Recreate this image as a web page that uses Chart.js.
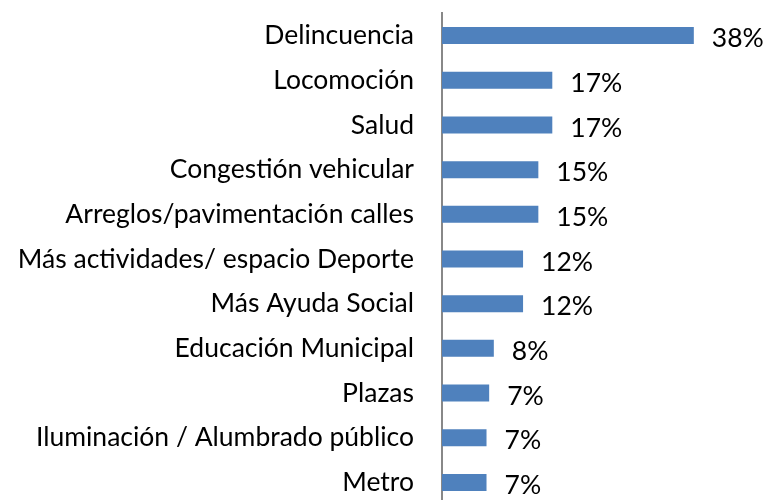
<!DOCTYPE html>
<html>
<head>
<meta charset="utf-8">
<script src="https://cdn.jsdelivr.net/npm/chart.js@4/dist/chart.umd.min.js"></script>
<style>
html,body{margin:0;padding:0;background:#fff;overflow:hidden;}
#wrap{width:767px;height:518px;}
</style>
</head>
<body>
<div id="wrap"><canvas id="c" width="767" height="518"></canvas></div>
<script>
const categories = ["Delincuencia","Locomoción","Salud","Congestión vehicular","Arreglos/pavimentación calles","Más actividades/ espacio Deporte","Más Ayuda Social","Educación Municipal","Plazas","Iluminación / Alumbrado público","Metro"];
const values = [37.9, 16.6, 16.6, 14.5, 14.5, 12.2, 12.2, 7.8, 7.1, 6.7, 6.7];
const valueLabels = ["38%","17%","17%","15%","15%","12%","12%","8%","7%","7%","7%"];

const FONT = "Lato, 'Open Sans', sans-serif";
const FSIZE = 26.5;
const labelPlugin = {
  id: 'valueLabels',
  afterDatasetsDraw(chart) {
    const ctx = chart.ctx;
    const meta = chart.getDatasetMeta(0);
    ctx.save();
    ctx.font = FSIZE + "px " + FONT;
    ctx.fillStyle = "#000";
    ctx.textAlign = "left";
    ctx.textBaseline = "middle";
    meta.data.forEach((bar, i) => {
      ctx.fillText(valueLabels[i], bar.x + 18, bar.y + 3);
    });
    ctx.restore();
  }
};

new Chart(document.getElementById('c'), {
  type: 'bar',
  data: {
    labels: categories,
    datasets: [{
      data: values,
      backgroundColor: '#4F81BD',
      borderWidth: 0,
      barPercentage: 0.38,
      categoryPercentage: 1
    }]
  },
  options: {
    indexAxis: 'y',
    responsive: false,
    animation: false,
    events: [],
    layout: { padding: { top: 0, bottom: 0, left: 0, right: 26 } },
    plugins: { legend: { display: false }, tooltip: { enabled: false } },
    scales: {
      x: {
        display: false,
        min: 0,
        max: 45
      },
      y: {
        afterFit(scale) { scale.width = 442; },
        grid: { display: false, drawTicks: true, tickLength: 28, color: 'rgba(0,0,0,0)' },
        border: { display: true, color: '#888888', width: 2 },
        ticks: {
          color: '#000',
          padding: 0,
          font: { family: FONT, size: FSIZE, lineHeight: 1 },
          autoSkip: false
        }
      }
    }
  },
  plugins: [labelPlugin]
});
</script>
</body>
</html>
